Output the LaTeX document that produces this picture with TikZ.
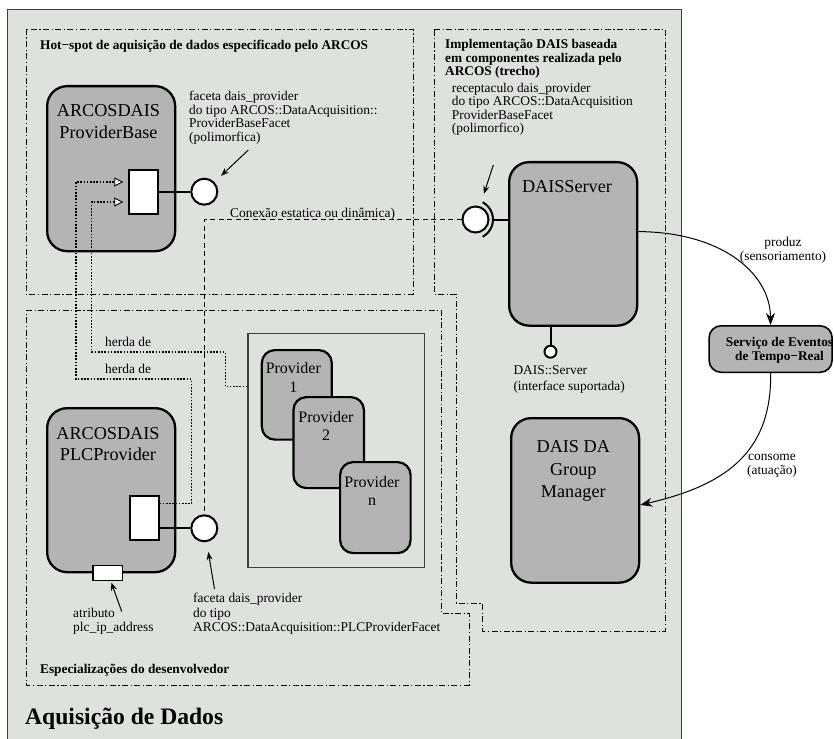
\documentclass[tikz,border=0pt]{standalone}
\usepackage{fontspec}
\setmainfont{Liberation Serif}
\usetikzlibrary{arrows.meta}

\definecolor{panelfill}{RGB}{222,226,221}
\definecolor{compfill}{RGB}{180,180,180}
\definecolor{rim}{RGB}{64,64,64}

\newcommand\fbig{\fontsize{18.2}{22}\selectfont}
\newcommand\fplc{\fontsize{18.2}{21}\selectfont}
\newcommand\fgm{\fontsize{18.2}{22.5}\selectfont}
\newcommand\fprov{\fontsize{16}{18.5}\selectfont}
\newcommand\fnote{\fontsize{13.4}{13.5}\selectfont}
\newcommand\fnotewide{\fontsize{13.4}{14.5}\selectfont}
\newcommand\fnotetall{\fontsize{13.4}{15.5}\selectfont}
\newcommand\fhead{\fontsize{13.3}{13.4}\selectfont\bfseries}
\newcommand\fservice{\fontsize{13.3}{14}\selectfont\bfseries}
\newcommand\ftitle{\fontsize{23.6}{27}\selectfont\bfseries}
\newcommand\mlines[2][l]{\begin{tabular}[t]{@{}#1@{}}#2\end{tabular}}

\begin{document}
\begin{tikzpicture}[x=1pt,y=-1pt,
  panel/.style={fill=panelfill,draw=rim,line width=1pt},
  region/.style={draw=black,line width=0.9pt,dash pattern=on 6pt off 2.5pt on 1.2pt off 2.5pt},
  comp/.style={draw=black,fill=compfill,line width=2.3pt,rounded corners=20pt,inner sep=0pt,anchor=north west},
  provcomp/.style={comp,rounded corners=13pt,line width=2.2pt},
  port/.style={draw=black,fill=white,line width=2pt,inner sep=0pt,anchor=north west},
  iface/.style={circle,draw=black,fill=white,line width=2pt,minimum size=26pt,inner sep=0pt},
  link/.style={line width=2pt},
  inherit/.style={line width=1.1pt,dash pattern=on 1.6pt off 1.6pt},
  opentip/.style={-{Triangle[fill=white,length=9pt,width=9pt,line width=0.9pt]}},
  conn/.style={line width=0.9pt,dash pattern=on 5pt off 3.5pt},
  pointer/.style={line width=1pt,-{Stealth[length=8pt,width=6pt]}},
  flow/.style={line width=1pt,-{Stealth[length=12pt,width=9pt]}},
  note/.style={inner sep=0pt,anchor=base west,font=\fnote},
  heading/.style={inner sep=0pt,anchor=base west,font=\fhead},
  ctext/.style={inner sep=0pt,anchor=base},
]
\useasboundingbox (0,0) rectangle (834,738);
\clip (0,0) rectangle (834,738);

% main panel
\draw[panel] (7,10) rectangle (681,760);

% dash-dot regions
\draw[region] (26,29) rectangle (413,294);
\draw[region] (434,29) -- (665,29) -- (665,631) -- (482,631) -- (482,603)
  -- (456,603) -- (456,294) -- (434,294) -- cycle;
\draw[region] (26,310) -- (441,310) -- (441,613) -- (469,613) -- (469,685)
  -- (26,685) -- cycle;

% container of the specialised providers
\node[draw=rim,line width=1.2pt,inner sep=0pt,anchor=north west,
  minimum width=176.5pt,minimum height=234.5pt] (provbox) at (247.3,332.7) {};

% components
\node[comp,minimum width=128pt,minimum height=165pt] (pb) at (46,85) {};
\node[comp,minimum width=128pt,minimum height=164pt] (plc) at (46,407) {};
\node[comp,minimum width=128pt,minimum height=163.5pt] (ds) at (508,161) {};
\node[comp,minimum width=128pt,minimum height=164.5pt] (gm) at (510,417) {};
\node[provcomp,minimum width=70pt,minimum height=89.5pt] (p1) at (260.7,349) {};
\node[provcomp,minimum width=70.5pt,minimum height=91pt] (p2) at (292.3,396) {};
\node[provcomp,minimum width=70.5pt,minimum height=91pt] (pn) at (339,461) {};
\node[comp,rounded corners=12pt,line width=1.6pt,minimum width=123pt,
  minimum height=46.5pt] (sev) at (708.3,325) {};

% ports and attribute
\node[port,minimum width=29pt,minimum height=44pt] (pbport) at (128.3,169) {};
\node[port,minimum width=28.5pt,minimum height=43.5pt] (plcport) at (129,495) {};
\node[port,line width=1.2pt,minimum width=29.8pt,minimum height=14.5pt] (attr) at (92.3,565) {};

% provided and used interfaces
\node[iface] (pbfacet) at (204.3,191.7) {};
\node[iface] (plcfacet) at (204.3,528.3) {};
\node[iface] (recept) at (475.5,219.5) {};
\node[iface,minimum size=12pt] (dsiface) at (550.5,351.7) {};

\draw[link] (pbport.east |- pbfacet) -- (pbfacet);
\draw[link] (plcport.east |- plcfacet) -- (plcfacet);
\draw[line width=2pt] ([xshift=-2pt]recept.center) ++(-62:19.5pt)
  arc[start angle=-62,end angle=62,radius=19.5pt];
\draw[link] ([xshift=17.5pt]recept.center) -- (ds.west |- recept);
\draw[link] (ds.south -| dsiface) -- (dsiface);

% static or dynamic connection
\draw[conn] (recept.west) -| (plcfacet.north);

% inheritance
\draw[inherit,opentip] ([yshift=14pt]plcport.east) -- ++(32,0) |- (76,379)
  |- ([xshift=-5pt,yshift=10pt]pbport.west);
\draw[inherit,opentip] ([yshift=63.8pt]provbox.west) -- ++(-22,0) |- (91.7,352)
  |- ([xshift=-5pt,yshift=-10pt]pbport.west);

% event channel
\draw[flow] ([yshift=12.3pt]ds.east) .. controls (720,232) and (770,272) .. (sev.north);
\draw[flow] (sev.south) .. controls (772,455) and (722,486) .. ([yshift=-4.5pt]gm.east);

% annotation pointers
\coordinate (tailA) at (248.3,150);
\coordinate (tailB) at (493.3,165);
\coordinate (tailC) at (214.5,589);
\coordinate (tailD) at (121.7,611.5);
\draw[pointer,shorten >=9pt] (tailA) -- (pbfacet);
\draw[pointer,shorten >=13pt] (tailB) -- (recept);
\draw[pointer,shorten >=10pt] (tailC) -- (plcfacet);
\draw[pointer,shorten >=2pt] (tailD) -- (attr);

% headings
\node[heading] (hothead) at (40,50) {Hot−spot de aquisição de dados especificado pelo ARCOS};
\node[heading] (implhead) at (445,49) {\mlines{Implementação DAIS baseada\\em componentes realizada pelo\\ARCOS (trecho)}};
\node[heading] (spechead) at (40,673) {Especializações do desenvolvedor};
\node[inner sep=0pt,anchor=base west,font=\ftitle] (maintitle) at (25,724.5) {Aquisição de Dados};

% component names
\node[ctext,font=\fbig] (pbt) at (108.5,117) {\mlines[c]{ARCOSDAIS\\ProviderBase}};
\node[ctext,font=\fplc] (plct) at (108,439) {\mlines[c]{ARCOSDAIS\\PLCProvider}};
\node[ctext,font=\fbig] (dst) at (567,192.7) {DAISServer};
\node[ctext,font=\fgm] (gmt) at (573.3,452.7) {\mlines[c]{DAIS DA\\Group\\Manager}};
\node[ctext,font=\fprov] (p1t) at (293.3,373.6) {\mlines[c]{Provider\\1}};
\node[ctext,font=\fprov] (p2t) at (326,422) {\mlines[c]{Provider\\2}};
\node[ctext,font=\fprov] (pnt) at (372,487) {\mlines[c]{Provider\\n}};
\node[ctext,font=\fservice] (sevt) at (779.5,346) {\mlines[c]{Serviço de Eventos\\de Tempo−Real}};

% notes
\node[note] (pbnote) at (189,101) {\mlines{faceta dais\_provider\\do tipo ARCOS::DataAcquisition::\\ProviderBaseFacet\\(polimorfica)}};
\node[note] (recnote) at (451.7,92.5) {\mlines{receptaculo dais\_provider\\do tipo ARCOS::DataAcquisition\\ProviderBaseFacet\\(polimorfico)}};
\node[note] (connlabel) at (230,217) {Conexão estatica ou dinâmica)};
\node[note] (herdaB) at (105,346) {herda de};
\node[note] (herdaA) at (105,373.7) {herda de};
\node[note,font=\fnotetall] (dsnote) at (513.3,374.5) {\mlines{DAIS::Server\\(interface suportada)}};
\node[note] (attrnote) at (73,617.5) {\mlines{atributo\\plc\_ip\_address}};
\node[note,font=\fnotewide] (plcnote) at (193,602.5) {\mlines{faceta dais\_provider\\do tipo\\ARCOS::DataAcquisition::PLCProviderFacet}};
\node[ctext,font=\fnote] (produz) at (783,246.5) {\mlines[c]{produz\\(sensoriamento)}};
\node[ctext,font=\fnotewide] (consome) at (772,460) {\mlines[c]{consome\\(atuação)}};
\end{tikzpicture}
\end{document}
